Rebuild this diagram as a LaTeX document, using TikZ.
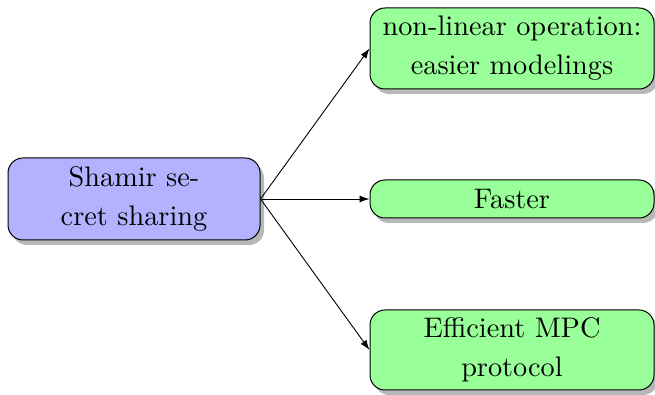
\documentclass[tikz,border=0pt]{standalone}
\usepackage{fontspec}
\newfontfamily\lmten{lmroman10-regular}[Extension=.otf]
\usetikzlibrary{shadows,arrows.meta}
\begin{document}
\begin{tikzpicture}[x=1pt,y=1pt,
  box/.style={draw=black, line width=1pt, rounded corners=15pt, align=center,
    inner sep=0pt, minimum width=#1,
    font=\lmten\fontsize{28.3}{39}\selectfont,
    drop shadow={fill=black!28, opacity=1, shadow xshift=4pt, shadow yshift=-5pt}},
  srcbox/.style={box=252pt, fill=blue!30},
  tgtbox/.style={box=284pt, fill=green!40},
  conn/.style={line width=0.9pt, -{Latex[length=10pt,width=7pt]}}]
\useasboundingbox (0,0) rectangle (655,395);
\node[srcbox, minimum height=82pt] (src) at (134,196) {Shamir se-\\cret sharing};
\node[tgtbox, minimum height=81pt] (t1) at (512,346.5) {non-linear operation:\\easier modelings};
\node[tgtbox, minimum height=38pt] (t2) at (512,196) {Faster};
\node[tgtbox, minimum height=80pt] (t3) at (512,45) {Efficient MPC\\protocol};
\draw[conn] (src.east) -- (t1.west);
\draw[conn] (src.east) -- (t2.west);
\draw[conn] (src.east) -- (t3.west);
\end{tikzpicture}
\end{document}
